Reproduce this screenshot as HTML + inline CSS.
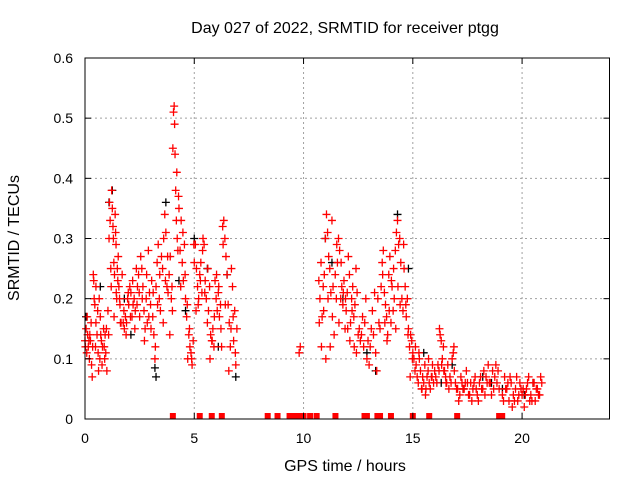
<!DOCTYPE html>
<html><head><meta charset="utf-8"><style>
html,body{margin:0;padding:0;background:#fff;}
svg{display:block;font-family:"Liberation Sans",sans-serif;}
</style></head><body>
<svg id="chart" width="640" height="480" xmlns="http://www.w3.org/2000/svg">
<rect width="640" height="480" fill="#fff"/>
<text x="345" y="33" font-size="16" text-anchor="middle">Day 027 of 2022, SRMTID for receiver ptgg</text>
<text x="345" y="471" font-size="16" text-anchor="middle">GPS time / hours</text>
<text x="19" y="238" font-size="16" text-anchor="middle" transform="rotate(-90 19 238)">SRMTID / TECUs</text>
<g id="grid"></g>
<g id="marks"></g>
<g id="axes"></g>
</svg>
<script>
const xTicks=[0,5,10,15,20];
const yTicks=[0,0.1,0.2,0.3,0.4,0.5,0.6];
const yTickLabels=["0","0.1","0.2","0.3","0.4","0.5","0.6"];
const redT=[0.0,0.05,0.08,0.1,0.15,0.2,0.22,0.25,0.3,0.35,0.38,0.4,0.45,0.5,0.5,0.55,0.6,0.62,0.65,0.7,0.75,0.8,0.85,0.9,0.92,0.95,1.0,
0.02,0.12,0.18,0.28,0.33,0.42,0.48,0.58,0.68,0.72,0.78,0.88,0.98,
1.05,1.1,1.12,1.15,1.2,1.22,1.25,1.28,1.3,1.32,1.35,1.38,1.4,1.42,1.45,1.48,1.5,1.55,1.6,1.65,1.7,1.08,1.18,1.33,1.43,1.52,1.58,1.62,
1.75,1.8,1.85,1.9,1.95,2.0,2.05,2.1,2.15,2.2,2.25,2.3,2.35,2.4,2.45,2.5,1.78,1.88,1.98,2.08,2.18,2.28,2.38,2.48,
2.55,2.6,2.65,2.7,2.75,2.8,2.85,2.9,2.95,3.0,3.05,3.1,3.15,3.2,3.25,3.3,3.35,3.4,3.45,3.5,2.62,2.72,2.82,2.92,3.02,3.12,3.22,3.32,3.42,
3.55,3.6,3.65,3.7,3.75,3.8,3.85,3.9,3.95,4.0,3.58,3.68,3.78,3.88,3.98,
4.02,4.05,4.08,4.1,4.12,4.15,4.18,4.2,4.22,4.25,4.28,4.3,
4.35,4.4,4.45,4.5,4.55,4.6,4.65,4.7,4.75,4.8,4.85,4.9,4.95,5.0,4.38,4.48,4.58,4.68,4.78,4.88,4.98,
5.05,5.1,5.15,5.2,5.25,5.3,5.35,5.4,5.45,5.5,5.08,5.18,5.28,5.38,5.48,
5.55,5.6,5.65,5.7,5.75,5.8,5.85,5.9,5.95,6.0,6.05,6.1,6.15,6.2,6.25,6.3,6.35,6.4,6.45,6.5,5.62,5.72,5.82,5.92,6.02,6.12,6.22,6.32,6.42,
6.55,6.6,6.65,6.7,6.75,6.8,6.85,6.9,6.95,6.58,6.68,6.78,6.88,9.8,9.85,
10.7,10.75,10.8,10.85,10.9,10.95,11.0,11.05,11.1,11.15,11.2,11.25,11.3,11.35,11.4,11.45,11.5,11.55,11.6,11.65,11.7,11.75,11.8,11.85,11.9,11.95,12.0,12.05,12.1,12.15,12.2,12.25,12.3,12.35,12.4,12.45,12.5,
10.72,10.82,10.92,11.02,11.12,11.22,11.32,11.52,11.62,11.72,11.82,11.92,12.02,12.12,12.22,12.32,12.42,
12.55,12.6,12.65,12.7,12.75,12.8,12.85,12.9,12.95,13.0,13.05,13.1,13.15,13.2,13.25,13.3,13.35,13.4,13.45,13.5,
13.55,13.6,13.65,13.7,13.75,13.8,13.85,13.9,13.95,14.0,14.05,14.1,14.15,14.2,14.25,14.3,14.35,14.4,14.45,14.5,13.62,13.72,13.82,13.92,14.02,14.12,14.22,14.32,14.42,
14.55,14.6,14.65,14.7,14.75,14.8,14.85,14.9,14.95,15.0,14.58,14.68,14.78,14.88,14.98,
15.05,15.1,15.15,15.2,15.25,15.3,15.35,15.4,15.45,15.5,15.55,15.6,15.65,15.7,15.75,15.8,15.85,15.9,15.95,16.0,15.12,15.28,15.42,15.58,15.72,15.88,
16.05,16.1,16.15,16.2,16.25,16.3,16.35,16.4,16.45,16.5,16.55,16.6,16.65,16.7,16.75,16.8,16.85,16.9,16.95,17.0,16.22,16.32,16.42,16.52,16.88,
17.05,17.15,17.25,17.35,17.45,17.55,17.65,17.75,17.85,17.95,18.05,18.15,18.25,18.35,18.45,18.55,18.65,18.75,18.85,18.95,17.1,17.3,17.5,17.7,17.9,18.1,18.3,18.5,18.7,18.9,17.2,17.4,17.6,17.8,18.0,18.2,18.4,18.6,18.8,
19.1,19.2,19.3,19.4,19.5,19.6,19.7,19.8,19.9,20.0,20.1,20.2,20.3,20.4,20.5,20.6,20.7,20.8,20.9,19.15,19.35,19.55,19.75,19.95,20.15,20.35,20.55,20.75,19.25,19.45,19.65,19.85,20.05,20.25,20.45,20.65,20.85];
const redV=[0.13,0.15,0.11,0.17,0.12,0.10,0.14,0.13,0.09,0.12,0.24,0.23,0.19,0.16,0.22,0.14,0.11,0.08,0.20,0.17,0.13,0.12,0.15,0.10,0.14,0.11,0.08,
0.12,0.14,0.13,0.16,0.07,0.2,0.12,0.18,0.1,0.14,0.09,0.12,0.15,
0.18,0.3,0.36,0.33,0.22,0.38,0.35,0.32,0.30,0.26,0.24,0.34,0.31,0.29,0.20,0.25,0.23,0.22,0.19,0.16,0.24,0.14,0.25,0.17,0.21,0.27,0.2,0.16,
0.16,0.15,0.17,0.16,0.20,0.19,0.22,0.21,0.17,0.19,0.20,0.18,0.25,0.22,0.24,0.17,0.18,0.14,0.21,0.17,0.23,0.15,0.19,0.21,
0.27,0.25,0.22,0.18,0.15,0.2,0.16,0.28,0.21,0.19,0.23,0.17,0.14,0.10,0.22,0.26,0.29,0.2,0.18,0.27,0.2,0.13,0.24,0.17,0.15,0.21,0.12,0.19,0.24,
0.25,0.3,0.34,0.31,0.22,0.21,0.24,0.27,0.2,0.18,0.16,0.23,0.27,0.14,0.22,
0.45,0.51,0.52,0.49,0.44,0.38,0.33,0.41,0.3,0.28,0.37,0.35,
0.28,0.33,0.26,0.23,0.29,0.2,0.17,0.1,0.14,0.12,0.11,0.09,0.13,0.26,0.22,0.31,0.24,0.19,0.15,0.1,0.29,
0.29,0.25,0.22,0.2,0.24,0.26,0.21,0.3,0.29,0.23,0.18,0.19,0.23,0.28,0.21,
0.2,0.16,0.18,0.22,0.14,0.13,0.15,0.12,0.23,0.2,0.18,0.21,0.17,0.19,0.12,0.32,0.33,0.3,0.27,0.24,0.25,0.1,0.13,0.17,0.24,0.22,0.15,0.29,0.19,
0.19,0.16,0.12,0.25,0.22,0.13,0.18,0.09,0.15,0.08,0.15,0.17,0.11,0.11,0.12,
0.23,0.2,0.26,0.17,0.22,0.24,0.3,0.34,0.31,0.27,0.25,0.21,0.33,0.22,0.14,0.24,0.2,0.26,0.3,0.28,0.2,0.22,0.19,0.23,0.15,0.18,0.21,0.27,0.24,0.16,0.2,0.22,0.17,0.19,0.25,0.21,0.14,
0.16,0.12,0.18,0.1,0.2,0.12,0.17,0.29,0.16,0.26,0.21,0.2,0.15,0.13,0.18,0.12,0.11,
0.15,0.13,0.14,0.17,0.12,0.16,0.2,0.1,0.13,0.09,0.12,0.15,0.18,0.14,0.21,0.11,0.08,0.2,0.16,0.15,
0.22,0.26,0.28,0.21,0.19,0.17,0.14,0.24,0.27,0.16,0.22,0.18,0.2,0.28,0.31,0.33,0.29,0.3,0.26,0.2,0.24,0.16,0.13,0.18,0.23,0.25,0.15,0.22,0.19,
0.18,0.25,0.22,0.17,0.2,0.15,0.12,0.14,0.13,0.11,0.29,0.19,0.14,0.07,0.1,
0.1,0.08,0.09,0.07,0.06,0.1,0.08,0.05,0.07,0.06,0.09,0.05,0.07,0.08,0.06,0.05,0.07,0.09,0.06,0.08,0.12,0.11,0.05,0.04,0.1,0.07,
0.07,0.06,0.09,0.08,0.14,0.13,0.1,0.12,0.08,0.07,0.06,0.09,0.05,0.07,0.06,0.1,0.11,0.08,0.06,0.05,0.15,0.09,0.08,0.06,0.12,
0.05,0.04,0.06,0.05,0.08,0.04,0.06,0.05,0.07,0.04,0.06,0.05,0.08,0.07,0.09,0.06,0.08,0.07,0.06,0.05,0.03,0.05,0.06,0.03,0.05,0.07,0.04,0.06,0.05,0.08,0.07,0.06,0.04,0.06,0.03,0.05,0.06,0.04,0.09,
0.04,0.07,0.05,0.03,0.06,0.04,0.05,0.03,0.06,0.04,0.02,0.05,0.07,0.04,0.06,0.03,0.05,0.04,0.06,0.03,0.06,0.02,0.07,0.05,0.04,0.03,0.06,0.04,0.05,0.07,0.03,0.04,0.05,0.06,0.03,0.05,0.07];
const blackT=[1.25,1.1,3.7,3.2,3.25,0.05,0.7,4.6,5.0,6.9,6.5,11.0,11.3,12.9,13.3,14.3,15.5,16.3,17.3,18.2,19.1,20.1,20.5,14.8,2.1,5.6,4.3,11.8,16.8,18.6,1.8,6.1];
const blackV=[0.38,0.36,0.36,0.085,0.07,0.17,0.22,0.18,0.3,0.07,0.24,0.3,0.26,0.11,0.08,0.34,0.11,0.06,0.05,0.07,0.05,0.04,0.06,0.25,0.14,0.25,0.23,0.2,0.09,0.06,0.2,0.12];
const zeroT=[4.02,5.25,5.8,6.26,8.36,8.81,9.36,9.59,9.82,10.0,10.3,10.6,11.46,12.79,12.9,13.38,13.5,14.0,15.0,15.75,17.03,18.95,19.09];

const X0=85,X1=609.5,Y0=419,Y1=58,XMAX=24,YMAX=0.6;
const xs=t=>X0+(X1-X0)*t/XMAX;
const ys=v=>Y0-(Y0-Y1)*v/YMAX;
const NS="http://www.w3.org/2000/svg";
function mk(tag,attrs,parent){const e=document.createElementNS(NS,tag);for(const k in attrs)e.setAttribute(k,attrs[k]);parent.appendChild(e);return e;}
const grid=document.getElementById('grid'),marks=document.getElementById('marks'),axes=document.getElementById('axes');
xTicks.forEach(t=>{if(t>0){const l=mk('line',{x1:xs(t),x2:xs(t),y1:Y0,y2:Y1,stroke:'#a0a0a0','stroke-dasharray':'2,3','stroke-width':1},grid);

}});
yTicks.forEach(v=>{if(v>0&&v<YMAX){const l=mk('line',{x1:X0,x2:X1,y1:ys(v),y2:ys(v),stroke:'#a0a0a0','stroke-dasharray':'2,3','stroke-width':1},grid);

}});
function plus(t,v,col,name){const x=xs(t),y=ys(v);const p=mk('path',{d:`M${x-4},${y}h8M${x},${y-4}v8`,stroke:col,'stroke-width':1.3,fill:'none'},marks);

}
blackT.forEach((t,i)=>plus(t,blackV[i],'#000','black-point'));
redT.forEach((t,i)=>plus(t,redV[i],'#ff0000','red-point'));
zeroT.forEach(t=>{const r=mk('rect',{x:xs(t)-3,y:Y0-6,width:6,height:6,fill:'#ff0000'},marks);

});
const box=mk('rect',{x:X0,y:Y1,width:X1-X0,height:Y0-Y1,fill:'none',stroke:'#000','stroke-width':1},axes);


xTicks.concat([24]).forEach(t=>{mk('line',{x1:xs(t),x2:xs(t),y1:Y0,y2:Y0-6,stroke:'#000'},axes);mk('line',{x1:xs(t),x2:xs(t),y1:Y1,y2:Y1+6,stroke:'#000'},axes);});
xTicks.forEach(t=>{const tx=mk('text',{x:xs(t),y:Y0+24,'font-size':14,'text-anchor':'middle'},axes);tx.textContent=String(t);

});
yTicks.forEach((v,i)=>{mk('line',{x1:X0,x2:X0+6,y1:ys(v),y2:ys(v),stroke:'#000'},axes);mk('line',{x1:X1,x2:X1-6,y1:ys(v),y2:ys(v),stroke:'#000'},axes);
const tx=mk('text',{x:X0-12,y:ys(v)+5,'font-size':14,'text-anchor':'end'},axes);tx.textContent=yTickLabels[i];

});
</script>
</body></html>
